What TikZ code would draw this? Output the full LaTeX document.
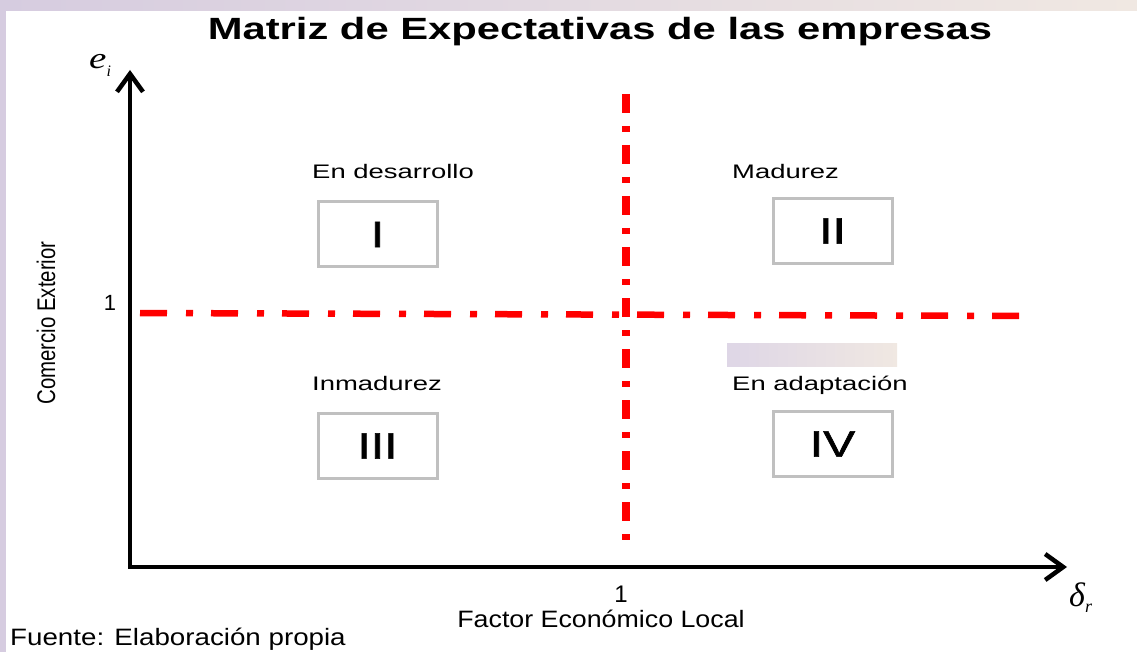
\documentclass[tikz,border=0pt]{standalone}
\usepackage{fontspec}
\setmainfont{Liberation Sans}
\newfontfamily\timesfont{Liberation Serif}
\newfontfamily\numfont{Liberation Sans}[FakeBold=1.3]
\usepackage{graphicx}
\usepackage{tikz}
\usetikzlibrary{arrows.meta,positioning,calc}

\newcommand{\fsize}[1]{\fontsize{#1}{#1}\selectfont}
\definecolor{lavbg}{RGB}{214,204,224}
\definecolor{beigebg}{RGB}{240,232,226}
\definecolor{boxgray}{RGB}{192,192,192}
\definecolor{dashred}{RGB}{255,0,0}

\begin{document}
\begin{tikzpicture}[x=1pt, y=-1pt, >={Straight Barb[length=18pt,width=26pt]}, inner sep=0pt]
    \tikzstyle{zone}=[draw=boxgray, line width=3pt, minimum width=119pt, minimum height=65pt, font=\numfont\fsize{37}]
    \tikzstyle{phase}=[anchor=base west, font=\fsize{19.6}]
    \tikzstyle{axis}=[line width=4.5pt, line join=miter]
    \tikzstyle{cut}=[dashred, line width=6.5pt]

    % slide background
    \useasboundingbox (0,0) rectangle (1137,652);
    \shade[left color=lavbg, right color=beigebg] (0,0) rectangle (1137,11);
    \fill[lavbg] (0,0) rectangle (6,652);
    \fill[white] (6,11) rectangle (1137,652);
    \shade[left color=lavbg!80, right color=beigebg] (727,343) rectangle (897,366);

    \node[anchor=base, font=\bfseries\fsize{30.7}] (title) at (600,40) {\scalebox{1.36}[1]{Matriz de Expectativas de las empresas}};

    % axes
    \coordinate (O) at (130,567);
    \coordinate (ytop) at (130,70);
    \coordinate (xend) at (1067,567);
    \draw[axis,<->] (ytop) |- (xend);

    \node[anchor=base west, font=\timesfont\itshape\fsize{30}] (ei) at (89,69) {\scalebox{1.3}[1]{e}\raisebox{-8pt}{\fsize{16}i}};
    \node[anchor=base west, font=\timesfont\itshape\fsize{34}] (dr) at (1069,606) {δ\raisebox{-6pt}{\fsize{18}r}};

    \node[anchor=base, font=\fsize{22}] (one y) at (110,310) {1};
    \node[anchor=base, font=\fsize{24}] (one x) at (621,602) {1};
    \node[anchor=base, font=\fsize{23.7}] (xlabel) at (601,627) {\scalebox{1.13}[1]{Factor Económico Local}};
    \node[anchor=base, rotate=90, font=\fsize{25.5}] (ylabel) at (55,323) {\scalebox{0.8}[1]{Comercio Exterior}};
    \node[anchor=base west, font=\fsize{23.7}] (source) at (10,645) {\scalebox{1.17}[1]{Fuente: Elaboración propia}};

    % dash-dot limits at 1
    \coordinate (hl) at (140,313);
    \coordinate (hr) at (1022,316);
    \coordinate (vt) at (626,94);
    \coordinate (vb) at (626,540);
    \draw[cut, dash pattern=on 27pt off 19pt on 7pt off 18pt] (hl) -- (hr);
    \draw[cut, line width=7.5pt, dash pattern=on 19pt off 13pt on 6pt off 13pt] (vt) -- (vb);

    % quadrants
    \node[zone] (q1) at (377.5,234.5) {\scalebox{1.3}[1]{I}};
    \node[zone] (q2) at (832.5,231) {\scalebox{1.3}[1]{II}};
    \node[zone] (q3) at (377.5,446) {\scalebox{1.3}[1]{III}};
    \node[zone] (q4) at (832.5,444) {\scalebox{1.3}[1]{IV}};

    \node[phase] (l1) at (312,179) {\scalebox{1.4}[1]{En desarrollo}};
    \node[phase] (l2) at (732,179) {\scalebox{1.4}[1]{Madurez}};
    \node[phase] (l3) at (312,390) {\scalebox{1.4}[1]{Inmadurez}};
    \node[phase] (l4) at (732,390) {\scalebox{1.4}[1]{En adaptación}};
\end{tikzpicture}
\end{document}
